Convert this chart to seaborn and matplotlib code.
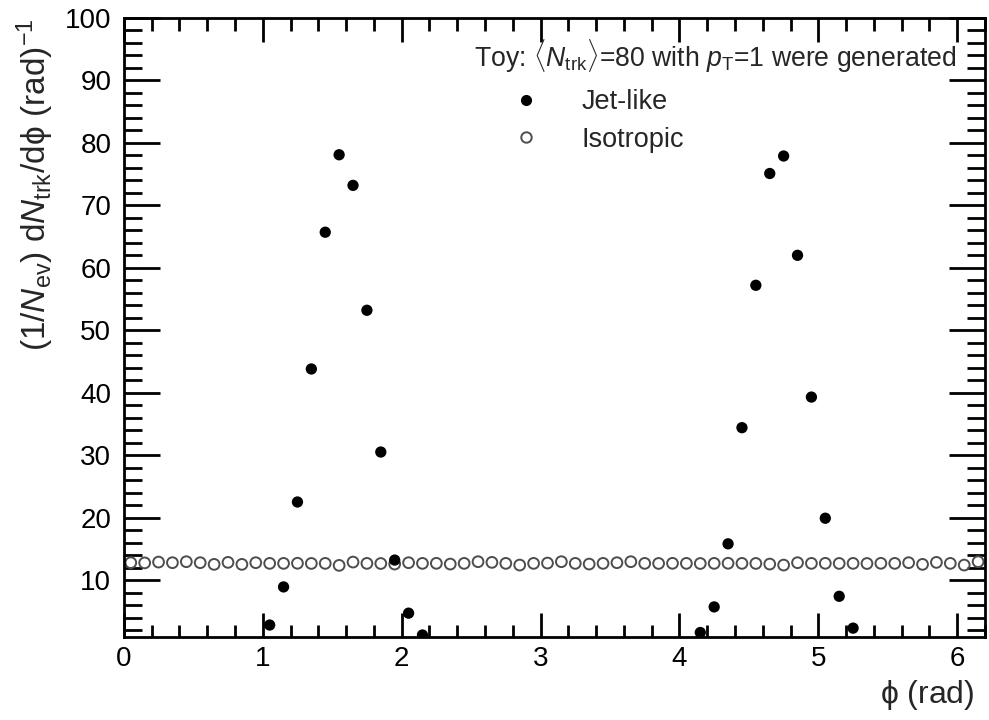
import matplotlib
matplotlib.use("Agg")
import matplotlib.pyplot as plt
import seaborn as sns
import numpy as np
from matplotlib.lines import Line2D
from matplotlib.ticker import MultipleLocator

# bin centres (rad), width 0.1
phi_iso = np.round(np.arange(62) * 0.1 + 0.05, 2)
iso = [12.78, 12.75, 12.88, 12.78, 12.94, 12.78, 12.51, 12.83, 12.51, 12.78,
       12.67, 12.67, 12.69, 12.66, 12.67, 12.35, 12.88, 12.67, 12.65, 12.56,
       12.78, 12.67, 12.68, 12.56, 12.67, 12.94, 12.83, 12.67, 12.40, 12.67,
       12.72, 12.94, 12.67, 12.56, 12.67, 12.78, 12.94, 12.67, 12.66, 12.68,
       12.67, 12.65, 12.67, 12.69, 12.67, 12.66, 12.56, 12.40, 12.78, 12.67,
       12.68, 12.66, 12.67, 12.65, 12.68, 12.67, 12.78, 12.51, 12.83, 12.67,
       12.40, 12.94]

phi_jet = [1.05, 1.15, 1.25, 1.35, 1.45, 1.55, 1.65, 1.75, 1.85, 1.95, 2.05, 2.15,
           4.15, 4.25, 4.35, 4.45, 4.55, 4.65, 4.75, 4.85, 4.95, 5.05, 5.15, 5.25]
jet = [2.8, 8.9, 22.5, 43.8, 65.7, 78.1, 73.2, 53.2, 30.5, 13.2, 4.7, 1.2,
       1.6, 5.7, 15.8, 34.4, 57.2, 75.1, 77.9, 62.0, 39.3, 19.9, 7.4, 2.3]

sns.set_style("ticks")
plt.rcParams.update({
    'font.family': ['Liberation Sans', 'DejaVu Sans'],
    'mathtext.fontset': 'custom',
    'mathtext.rm': 'Liberation Sans',
    'mathtext.it': 'Liberation Sans:italic',
    'mathtext.bf': 'Liberation Sans:bold',
    'font.size': 19,
})

fig = plt.figure(figsize=(9.89, 7.2), dpi=100)
ax = fig.add_axes([0.1252, 0.1157, 0.8708, 0.8593])

sns.scatterplot(x=phi_iso, y=iso, ax=ax, marker='o', s=60,
                facecolor='none', edgecolor='#4d4d4d', linewidth=1.4, zorder=2)
sns.scatterplot(x=phi_jet, y=jet, ax=ax, marker='o', s=66,
                color='black', edgecolor='none', zorder=3)

ax.set_xlim(0, 6.2)
ax.set_ylim(0.93, 100)
ax.xaxis.set_major_locator(MultipleLocator(1))
ax.xaxis.set_minor_locator(MultipleLocator(0.2))
ax.yaxis.set_major_locator(MultipleLocator(10))
ax.yaxis.set_minor_locator(MultipleLocator(2))
ax.set_yticks([10, 20, 30, 40, 50, 60, 70, 80, 90, 100])

for s in ax.spines.values():
    s.set_linewidth(2)
    s.set_color('black')
ax.tick_params(axis='both', which='both', direction='in', top=True, right=True,
               width=2, colors='black', labelsize=20)
ax.tick_params(axis='x', which='major', length=17, pad=7)
ax.tick_params(axis='x', which='minor', length=9)
ax.tick_params(axis='y', which='major', length=26, pad=9)
ax.tick_params(axis='y', which='minor', length=13)

ax.set_xlabel(r'$\mathrm{\phi}$ (rad)', loc='right', fontsize=23)
ax.xaxis.set_label_coords(0.988, -0.067)
ax.set_ylabel(r'(1/$N_{\mathrm{ev}}$) d$N_{\mathrm{trk}}$/d$\mathrm{\phi}$ (rad)$^{-1}$',
              loc='top', fontsize=24, labelpad=6)

fig.text(0.479, 0.907,
         r'Toy: $\langle N_{\mathrm{trk}}\rangle$=80 with $p_{\mathrm{T}}$=1 were generated',
         fontsize=19.2, va='baseline', ha='left')

handles = [
    Line2D([], [], ls='none', marker='o', markersize=8, color='black', markeredgecolor='none'),
    Line2D([], [], ls='none', marker='o', markersize=7.5, markerfacecolor='none',
           markeredgecolor='#4d4d4d', markeredgewidth=1.4),
]
ax.legend(handles, ['Jet-like', 'Isotropic'], loc='upper left',
          bbox_to_anchor=(0.520, 0.876), bbox_transform=fig.transFigure,
          frameon=False, fontsize=19.5, handlelength=0.9, handletextpad=1.6,
          labelspacing=0.42, borderpad=0, borderaxespad=0)

fig.savefig('out.png', dpi=100)
